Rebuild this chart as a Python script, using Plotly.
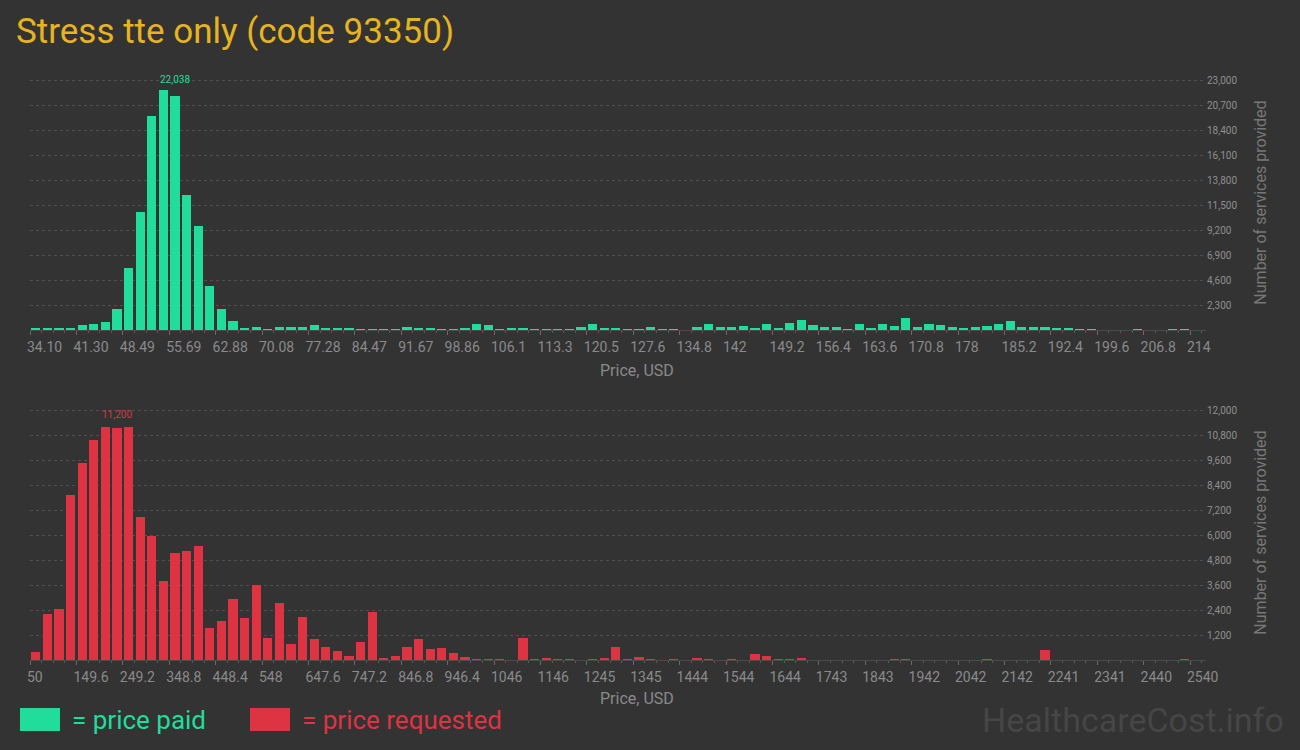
import plotly.graph_objects as go

# ---------------- data ----------------
paid_min, paid_max = 34.10, 214.0
paid_counts = [100, 100, 150, 150, 430, 520, 700, 1900, 5670, 10830,
               19660, 22038, 21500, 12390, 9540, 4020, 1900, 800, 150, 245,
               60, 245, 245, 245, 430, 150, 150, 150, 60, 60,
               60, 60, 245, 150, 150, 60, 60, 150, 520, 430,
               60, 150, 150, 60, 60, 60, 60, 245, 520, 150,
               150, 60, 60, 245, 60, 60, 0, 245, 520, 245,
               245, 340, 150, 520, 150, 610, 890, 430, 245, 245,
               60, 520, 150, 520, 340, 1070, 245, 520, 430, 245,
               150, 245, 340, 520, 800, 245, 245, 245, 150, 150,
               60, 60, 0, 0, 0, 60, 0, 0, 60, 60]
paid_ticks = ["34.10", "41.30", "48.49", "55.69", "62.88", "70.08", "77.28", "84.47",
              "91.67", "98.86", "106.1", "113.3", "120.5", "127.6", "134.8", "142",
              "149.2", "156.4", "163.6", "170.8", "178", "185.2", "192.4", "199.6",
              "206.8", "214"]

req_min, req_max = 50.0, 2540.0
req_counts = [368, 2192, 2432, 7904, 9440, 10544, 11200, 11120, 11170, 6848,
              5936, 3776, 5120, 5216, 5456, 1520, 1856, 2912, 2000, 3584,
              1040, 2720, 752, 2048, 992, 608, 416, 176, 848, 2288,
              80, 176, 608, 992, 512, 560, 320, 128, 48, 48,
              48, 0, 1040, 48, 96, 48, 48, 0, 48, 96,
              608, 48, 144, 48, 0, 48, 0, 96, 48, 0,
              48, 0, 272, 176, 48, 48, 96, 0, 0, 0,
              0, 0, 0, 0, 48, 48, 0, 0, 0, 0,
              0, 0, 48, 0, 0, 0, 0, 460, 0, 0,
              0, 0, 0, 0, 0, 0, 0, 0, 0, 48]
req_ticks = ["50", "149.6", "249.2", "348.8", "448.4", "548", "647.6", "747.2",
             "846.8", "946.4", "1046", "1146", "1245", "1345", "1444", "1544",
             "1644", "1743", "1843", "1942", "2042", "2142", "2241", "2341",
             "2440", "2540"]

paid_yticks = [2300 * k for k in range(1, 11)]
req_yticks = [1200 * k for k in range(1, 11)]

# ---------------- styling ----------------
BG = "#333333"
GREEN = "#21dd9b"
RED = "#dd3343"
TITLE = "#e6b420"
TICK = "#8a8a8a"
GRID = "#4f4f4f"
FONT = "Roboto"


def bins(lo, hi, counts):
    n = len(counts)
    w = (hi - lo) / n
    starts = [lo + i * w for i in range(n)]
    centers = [s + w / 2 for s in starts]
    return w, starts, centers


pw, pstarts, pcenters = bins(paid_min, paid_max, paid_counts)
rw, rstarts, rcenters = bins(req_min, req_max, req_counts)

fig = go.Figure()
fig.add_trace(go.Bar(x=pcenters, y=paid_counts, width=pw * 0.8, marker_color=GREEN,
                     marker_line_width=0, xaxis="x", yaxis="y", hoverinfo="x+y"))
fig.add_trace(go.Bar(x=rcenters, y=req_counts, width=rw * 0.8, marker_color=RED,
                     marker_line_width=0, xaxis="x2", yaxis="y2", hoverinfo="x+y"))

# plot area: x 30..1206 px, y 75..660 px
L, R, T, B = 30, 94, 75, 90
PW, PH = 1300 - L - R, 750 - T - B


def px_x(px):
    return (px - L) / PW


def px_y(py):
    return (750 - B - py) / PH


def xaxis_cfg(lo, hi, n_bins, ticks, anchor):
    w = (hi - lo) / n_bins
    step = (hi - lo) / (len(ticks) - 1)
    extra = 16 / 1160 * (hi - lo)
    return dict(
        anchor=anchor, range=[lo, hi + extra], domain=[0, 1],
        tickmode="array", tickvals=[lo + k * step for k in range(len(ticks))],
        ticktext=ticks, ticks="outside", ticklen=4, tickcolor="#6a6a6a", tickangle=0,
        ticklabelposition="outside right", ticklabelshift=-4, ticklabelstandoff=4,
        tickfont=dict(family=FONT, size=14, color=TICK),
        minor=dict(ticks="outside", ticklen=2, tickcolor="#5a5a5a", tick0=lo, dtick=w,
                   showgrid=False),
        showgrid=False, zeroline=False, showline=True, linecolor="#4a4a4a", linewidth=1,
        fixedrange=True,
    )


def yaxis_cfg(tickvals, top, domain, anchor):
    return dict(
        anchor=anchor, domain=domain, side="right", range=[0, top],
        tickmode="array", tickvals=tickvals, tickformat=",",
        tickfont=dict(family=FONT, size=10, color="#8f8f8f"),
        showgrid=True, gridcolor=GRID, griddash="dot", gridwidth=1,
        zeroline=False, showline=False, ticks="",
        title=dict(text="Number of services provided",
                   font=dict(family=FONT, size=16, color="#777777"), standoff=18),
        fixedrange=True,
    )


fig.update_layout(
    width=1300, height=750,
    paper_bgcolor=BG, plot_bgcolor=BG,
    margin=dict(l=L, r=R, t=T, b=B),
    showlegend=False, bargap=0,
    xaxis=xaxis_cfg(paid_min, paid_max, len(paid_counts), paid_ticks, "y"),
    yaxis=yaxis_cfg(paid_yticks, 23000 + 5 * 92, [px_y(330), 1], "x"),
    xaxis2=xaxis_cfg(req_min, req_max, len(req_counts), req_ticks, "y2"),
    yaxis2=yaxis_cfg(req_yticks, 12000 + 5 * 48, [0, px_y(405)], "x2"),
    title=dict(text="Stress tte only (code 93350)", x=16 / 1300, xanchor="left",
               xref="container", yref="container", y=1 - 31 / 750, yanchor="middle",
               font=dict(family=FONT, size=35, color=TITLE)),
)

# x-axis titles (offset right of the plot centre, as in the original)
for ypx in (370, 698):
    fig.add_annotation(xref="paper", yref="paper", x=px_x(637), y=px_y(ypx), text="Price, USD",
                       showarrow=False, xanchor="center", yanchor="middle",
                       font=dict(family=FONT, size=16, color=TICK))

# max value labels
pmax = max(paid_counts)
pi = paid_counts.index(pmax)
rmax = max(req_counts)
ri = req_counts.index(rmax)
fig.add_annotation(x=pstarts[pi], y=pmax, xref="x", yref="y", text=f"{pmax:,}",
                   showarrow=False, xanchor="left", yanchor="bottom", yshift=3,
                   font=dict(family=FONT, size=10, color=GREEN))
fig.add_annotation(x=rstarts[ri], y=rmax, xref="x2", yref="y2", text=f"{rmax:,}",
                   showarrow=False, xanchor="left", yanchor="bottom", yshift=5,
                   font=dict(family=FONT, size=10, color=RED))

# legend (custom)
fig.add_shape(type="rect", xref="paper", yref="paper", x0=px_x(20), x1=px_x(60),
              y0=px_y(731), y1=px_y(708), fillcolor=GREEN, line_width=0)
fig.add_shape(type="rect", xref="paper", yref="paper", x0=px_x(250), x1=px_x(290),
              y0=px_y(731), y1=px_y(708), fillcolor=RED, line_width=0)
fig.add_annotation(xref="paper", yref="paper", x=px_x(70), y=px_y(720), text="= price paid",
                   showarrow=False, xanchor="left", yanchor="middle",
                   font=dict(family=FONT, size=26, color=GREEN))
fig.add_annotation(xref="paper", yref="paper", x=px_x(300), y=px_y(720), text="= price requested",
                   showarrow=False, xanchor="left", yanchor="middle",
                   font=dict(family=FONT, size=26, color=RED))
fig.add_annotation(xref="paper", yref="paper", x=px_x(1286), y=px_y(720), text="HealthcareCost.info",
                   showarrow=False, xanchor="right", yanchor="middle",
                   font=dict(family=FONT, size=34, color="#464646"))

fig.write_html("out.html", config={"displayModeBar": False},
               post_script="document.body.style.margin='0';document.body.style.overflow='hidden';")
